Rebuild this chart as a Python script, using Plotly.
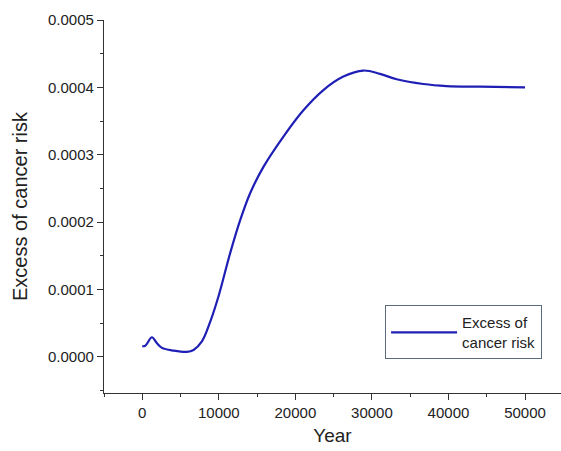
import plotly.graph_objects as go

years = [0, 390, 1260, 1920, 2570, 4090, 5830, 6700, 7790, 8870, 9960, 11480, 12790,
         14090, 15830, 18440, 21050, 23660, 26270, 28880, 31060, 33240, 36710,
         39760, 44110, 50000]
risk = [0.0000160, 0.0000165, 0.0000292, 0.0000203, 0.0000135, 0.0000094, 0.0000075,
        0.0000104, 0.0000230, 0.0000520, 0.0000900, 0.000154, 0.000203,
        0.000243, 0.000282, 0.000327, 0.000366, 0.000396, 0.000416, 0.000425,
        0.000420, 0.000412, 0.000405, 0.000402, 0.000401, 0.000400]

font = "Arial, Liberation Sans, sans-serif"

fig = go.Figure()
fig.add_trace(go.Scatter(
    x=years, y=risk, mode="lines", name="Excess of<br>cancer risk",
    line=dict(color="#1f1fb5", width=2.2, shape="spline", smoothing=1.0),
))

fig.update_layout(
    width=561, height=451,
    margin=dict(l=104, r=0, t=20, b=58),
    paper_bgcolor="white", plot_bgcolor="white",
    font=dict(family=font, size=15, color="#222"),
    showlegend=True,
    legend=dict(x=0.615, y=0.235, xanchor="left", yanchor="top",
                bordercolor="#5a6a80", borderwidth=1, bgcolor="white",
                itemwidth=66, entrywidth=200, entrywidthmode="pixels",
                tracegroupgap=0,
                font=dict(size=15, color="#222")),
    xaxis=dict(
        automargin=False,
        range=[-5000, 54700], tickvals=[0, 10000, 20000, 30000, 40000, 50000],
        ticktext=["0", "10000", "20000", "30000", "40000", "50000"],
        showgrid=False, zeroline=False, showline=True, linecolor="#333", linewidth=1.3,
        ticks="outside", ticklen=6, tickcolor="#333", tickwidth=1.3,
        minor=dict(dtick=5000, tick0=0, ticks="outside", ticklen=3, tickcolor="#333"),
        title=dict(text="Year", font=dict(size=19), standoff=8),
    ),
    yaxis=dict(
        automargin=False,
        range=[-0.0000535, 0.0005], tickvals=[0, 0.0001, 0.0002, 0.0003, 0.0004, 0.0005],
        ticktext=["0.0000", "0.0001", "0.0002", "0.0003", "0.0004", "0.0005"],
        showgrid=False, zeroline=False, showline=True, linecolor="#333", linewidth=1.3,
        ticks="outside", ticklen=6, tickcolor="#333", tickwidth=1.3,
        minor=dict(dtick=0.00005, tick0=0, ticks="outside", ticklen=3, tickcolor="#333"),
        title=dict(text="Excess of cancer risk", font=dict(size=20), standoff=14),
    ),
)

fig.write_html("out.html", config={"displayModeBar": False},
               post_script="document.body.style.margin='0';document.body.style.overflow='hidden';"
                           "document.documentElement.style.overflow='hidden';")
